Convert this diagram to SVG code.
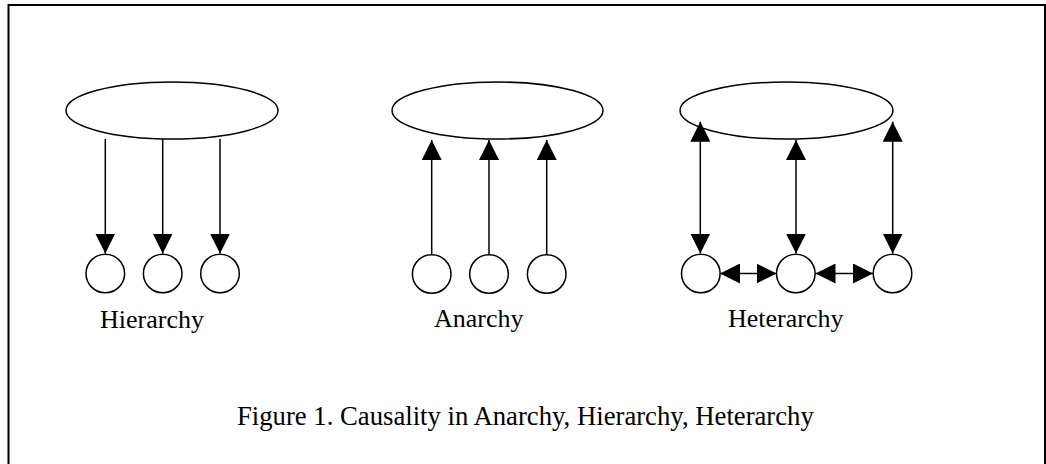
<svg xmlns="http://www.w3.org/2000/svg" width="1046" height="464" viewBox="0 0 1046 464">
<defs>
<marker id="ah" viewBox="0 0 20 20" refX="20" refY="10" markerWidth="20" markerHeight="20" markerUnits="userSpaceOnUse" orient="auto-start-reverse">
<path d="M0,0 L20,10 L0,20 z" fill="#000"/>
</marker>
<style>
.shape{fill:#fff;stroke:#000;stroke-width:1.5}
.conn{stroke:#000;stroke-width:1.5;fill:none}
.one{marker-end:url(#ah)}
.two{marker-start:url(#ah);marker-end:url(#ah)}
.lbl{font-family:"Liberation Serif","Times New Roman",serif;font-size:26px;fill:#000}
.cap{font-size:26.7px}
</style>
</defs>
<rect x="8.5" y="5" width="1036.5" height="480" fill="#fff" stroke="#000" stroke-width="2"/>
<g id="hierarchy">
<ellipse class="shape" cx="172" cy="110.5" rx="106" ry="28.5"/>
<circle class="shape" cx="105.3" cy="273.5" r="19.3"/>
<circle class="shape" cx="162.7" cy="273.5" r="19.3"/>
<circle class="shape" cx="220" cy="273.5" r="19.3"/>
<text class="lbl" x="100" y="328">Hierarchy</text>
</g>
<g id="anarchy">
<ellipse class="shape" cx="497.5" cy="110.5" rx="105.5" ry="28.5"/>
<circle class="shape" cx="431.7" cy="274" r="19.3"/>
<circle class="shape" cx="489" cy="274" r="19.3"/>
<circle class="shape" cx="546.7" cy="274" r="19.3"/>
<text class="lbl" x="434" y="327">Anarchy</text>
</g>
<g id="heterarchy">
<ellipse class="shape" cx="786.5" cy="110.5" rx="106.5" ry="28.5"/>
<circle class="shape" cx="700.8" cy="273.5" r="19.3"/>
<circle class="shape" cx="795.8" cy="273.5" r="19.3"/>
<circle class="shape" cx="892.5" cy="273.5" r="19.3"/>
<text class="lbl" x="728" y="327">Heterarchy</text>
</g>
<g id="connectors">
<line class="conn one" x1="105.3" y1="139" x2="105.3" y2="253.5"/>
<line class="conn one" x1="162.7" y1="139" x2="162.7" y2="253.5"/>
<line class="conn one" x1="220" y1="139" x2="220" y2="253.5"/>
<line class="conn one" x1="431.7" y1="254.5" x2="431.7" y2="140"/>
<line class="conn one" x1="489" y1="254.5" x2="489" y2="140"/>
<line class="conn one" x1="546.7" y1="254.5" x2="546.7" y2="140"/>
<line class="conn two" x1="700.3" y1="121.7" x2="700.3" y2="253.5"/>
<line class="conn two" x1="796" y1="140" x2="796" y2="253.5"/>
<line class="conn two" x1="892.7" y1="121.7" x2="892.7" y2="253.5"/>
<line class="conn two" x1="720" y1="273.5" x2="776.5" y2="273.5"/>
<line class="conn two" x1="815.5" y1="273.5" x2="873" y2="273.5"/>
</g>
<text id="caption" class="lbl cap" x="237" y="425">Figure 1. Causality in Anarchy, Hierarchy, Heterarchy</text>
</svg>
